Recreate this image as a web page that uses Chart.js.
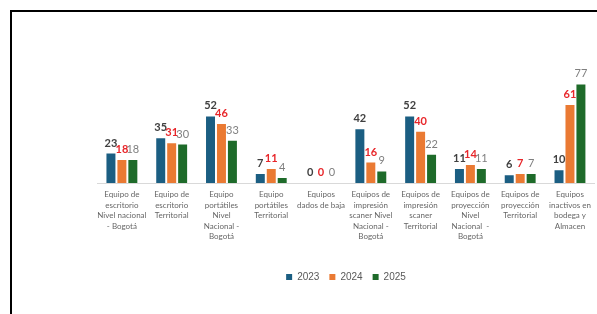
<!DOCTYPE html>
<html>
<head>
<meta charset="utf-8">
<script src="https://cdn.jsdelivr.net/npm/chart.js@4.4.1/dist/chart.umd.min.js"></script>
<style>
  html, body { margin: 0; padding: 0; background: #fff; }
  .frame { position: absolute; left: 10px; top: 10px; width: 700px; height: 400px; border: 2px solid #000; }
  .wrap { position: absolute; left: 0; top: 0; width: 597px; height: 314px; }
</style>
</head>
<body>
<div class="frame"></div>
<div class="wrap"><canvas id="myChart" width="597" height="314"></canvas></div>
<script>
const categorias = [
    ['Equipo de', 'escritorio', 'Nivel nacional', '- Bogotá'],
    ['Equipo de', 'escritorio', 'Territorial'],
    ['Equipo', 'portátiles', 'Nivel', 'Nacional -', 'Bogotá'],
    ['Equipo', 'portátiles', 'Territorial'],
    ['Equipos', 'dados de baja'],
    ['Equipos de', 'impresión', 'scaner Nivel', 'Nacional -', 'Bogotá'],
    ['Equipos de', 'impresión', 'scaner', 'Territorial'],
    ['Equipos de', 'proyección', 'Nivel', 'Nacional  -', 'Bogotá'],
    ['Equipos de', 'proyección', 'Territorial'],
    ['Equipos', 'inactivos en', 'bodega y', 'Almacen']
]
const datos2023 = [23, 35, 52, 7, 0, 42, 52, 11, 6, 10]
const datos2024 = [18, 31, 46, 11, 0, 16, 40, 14, 7, 61]
const datos2025 = [18, 30, 33, 4, 0, 9, 22, 11, 7, 77]

// etiquetas encima de cada barra
const etiquetas = {
    id: 'etiquetas',
    afterDatasetsDraw(chart) {
        const ctx = chart.ctx
        const estilos = [
            { color: '#404040', font: 'bold 11px Lato' },
            { color: '#e8262a', font: 'bold 11px Lato' },
            { color: '#7f7f7f', font: '11px Lato' }
        ]
        chart.data.datasets.forEach((ds, i) => {
            const meta = chart.getDatasetMeta(i)
            ctx.save()
            ctx.fillStyle = estilos[i].color
            ctx.font = estilos[i].font
            ctx.textAlign = 'center'
            ctx.textBaseline = 'alphabetic'
            meta.data.forEach((bar, j) => {
                ctx.fillText(ds.data[j], bar.x, bar.y - 7)
            })
            ctx.restore()
        })
    }
}

const ctx = document.getElementById('myChart')

new Chart(ctx, {
    type: 'bar',
    data: {
        labels: categorias,
        datasets: [
            { label: '2023', data: datos2023, backgroundColor: '#1b5e82' },
            { label: '2024', data: datos2024, backgroundColor: '#ea7a33' },
            { label: '2025', data: datos2025, backgroundColor: '#1e6b2a' }
        ]
    },
    options: {
        responsive: false,
        animation: false,
        categoryPercentage: 0.66,
        barPercentage: 0.82,
        layout: { padding: { left: 97, right: 2, top: 55, bottom: 22 } },
        scales: {
            y: { display: false, min: 0, max: 100 },
            x: {
                grid: { display: false, drawTicks: false },
                border: { display: true, color: '#d9d9d9' },
                ticks: {
                    autoSkip: false, maxRotation: 0, padding: 6,
                    color: '#666666',
                    font: { family: 'Lato', size: 8, lineHeight: 1.33 }
                },
                afterFit(scale) { scale.height = 79 }
            }
        },
        plugins: {
            legend: {
                position: 'bottom',
                labels: {
                    boxWidth: 6, boxHeight: 6, padding: 10,
                    color: '#595959',
                    font: { family: 'Liberation Sans', size: 10 }
                }
            },
            tooltip: { enabled: false }
        }
    },
    plugins: [etiquetas]
})
</script>
</body>
</html>
